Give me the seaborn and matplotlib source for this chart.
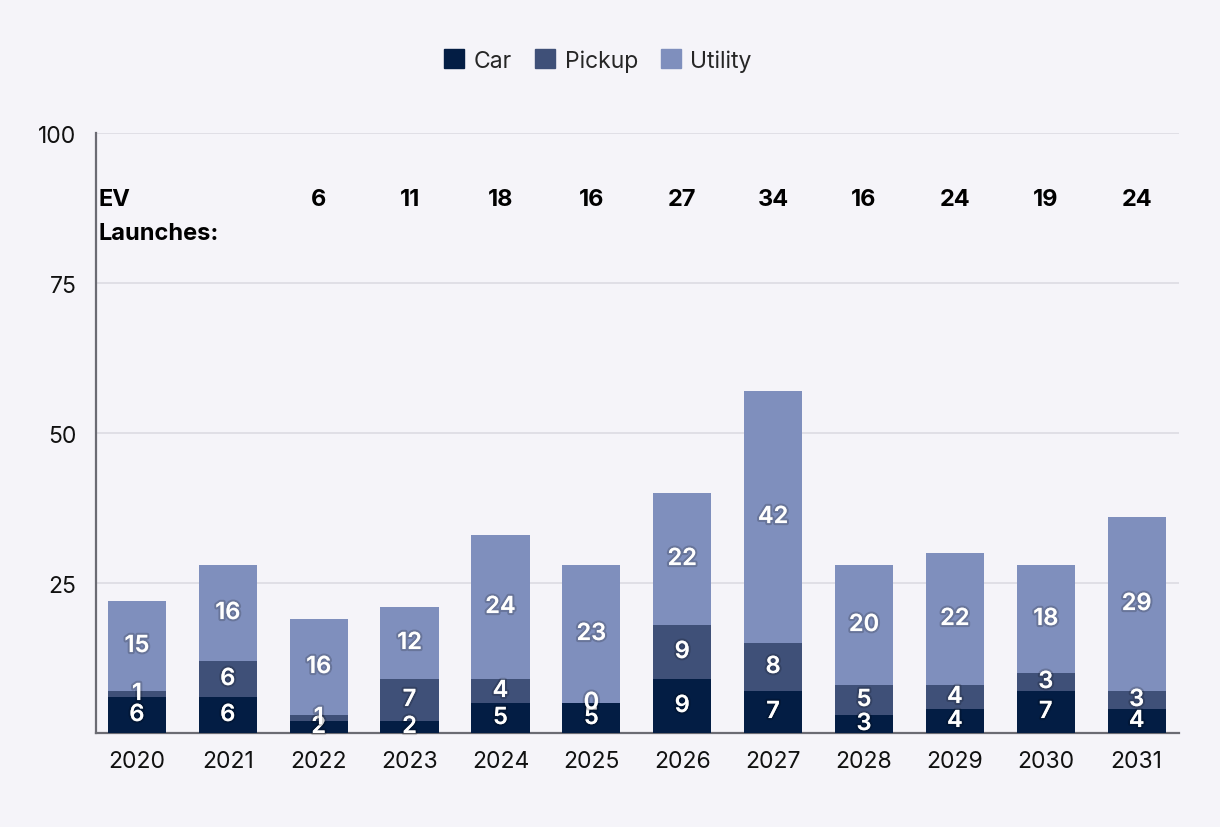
import numpy as np
import pandas as pd
import matplotlib
matplotlib.use("Agg")
import matplotlib.pyplot as plt
import matplotlib.patheffects as pe
from matplotlib.patches import Patch
import seaborn as sns

years = ["2020", "2021", "2022", "2023", "2024", "2025",
         "2026", "2027", "2028", "2029", "2030", "2031"]
car = [6, 6, 2, 2, 5, 5, 9, 7, 3, 4, 7, 4]
pickup = [1, 6, 1, 7, 4, 0, 9, 8, 5, 4, 3, 3]
utility = [15, 16, 16, 12, 24, 23, 22, 42, 20, 22, 18, 29]
ev_launches = [None, None, 6, 11, 18, 16, 27, 34, 16, 24, 19, 24]

colors = {"Car": "#031d44", "Pickup": "#3f5078", "Utility": "#7f8fbd"}
bg = "#f5f4f9"

df = pd.DataFrame({"year": years, "Car": car, "Pickup": pickup, "Utility": utility})
df["car_pick"] = df["Car"] + df["Pickup"]
df["total"] = df["car_pick"] + df["Utility"]

sns.set_style("white")
plt.rcParams["font.family"] = ["Inter", "DejaVu Sans"]

fig = plt.figure(figsize=(12.2, 8.28), dpi=100, facecolor=bg)
ax = fig.add_axes([0.0787, 0.1135, 0.888, 0.7245])
ax.set_facecolor(bg)

# stacked look by overlaying cumulative bars
for col, key, z in [("total", "Utility", 2), ("car_pick", "Pickup", 3), ("Car", "Car", 4)]:
    sns.barplot(data=df, x="year", y=col, color=colors[key], width=0.64,
                saturation=1, linewidth=0, edgecolor="none", ax=ax, zorder=z)

effects = [pe.withStroke(linewidth=3, foreground=(0, 0, 0, 0.18))]
for i, row in df.iterrows():
    for val, base in [(row["Car"], 0), (row["Pickup"], row["Car"]),
                      (row["Utility"], row["car_pick"])]:
        ax.text(i, base + val / 2, str(val), ha="center", va="center",
                color="white", fontsize=17, fontweight="semibold", zorder=6,
                path_effects=effects)

for i, n in enumerate(ev_launches):
    if n is not None:
        ax.text(i, 89.0, str(n), ha="center", va="center", fontsize=17,
                fontweight="bold", color="black")
ax.text(-0.42, 89.0, "EV", ha="left", va="center", fontsize=17,
        fontweight="bold", color="black")
ax.text(-0.42, 83.3, "Launches:", ha="left", va="center", fontsize=17,
        fontweight="bold", color="black")

ax.set_ylim(0, 100)
ax.set_xlim(-0.45, 11.47)
ax.set_yticks([0, 25, 50, 75, 100])
ax.set_yticklabels(["", "25", "50", "75", "100"])
ax.yaxis.grid(True, color="#dcdbe3", linewidth=1.2, zorder=0)
ax.set_axisbelow(True)
ax.set_xlabel("")
ax.set_ylabel("")
ax.tick_params(axis="both", length=0, labelsize=16.5, colors="#111111", pad=12)
ax.tick_params(axis="y", pad=14)
for s in ["top", "right"]:
    ax.spines[s].set_visible(False)
for s in ["left", "bottom"]:
    ax.spines[s].set_color("#6b6b73")
    ax.spines[s].set_linewidth(1.6)

handles = [Patch(color=colors[k], label=k) for k in ["Car", "Pickup", "Utility"]]
fig.legend(handles=handles, loc="center", bbox_to_anchor=(0.49, 0.926), ncol=3,
           frameon=False, fontsize=16.5, handlelength=0.9, handleheight=0.9,
           handletextpad=0.4, columnspacing=1.0)

fig.savefig("out.png", dpi=100, facecolor=bg)
